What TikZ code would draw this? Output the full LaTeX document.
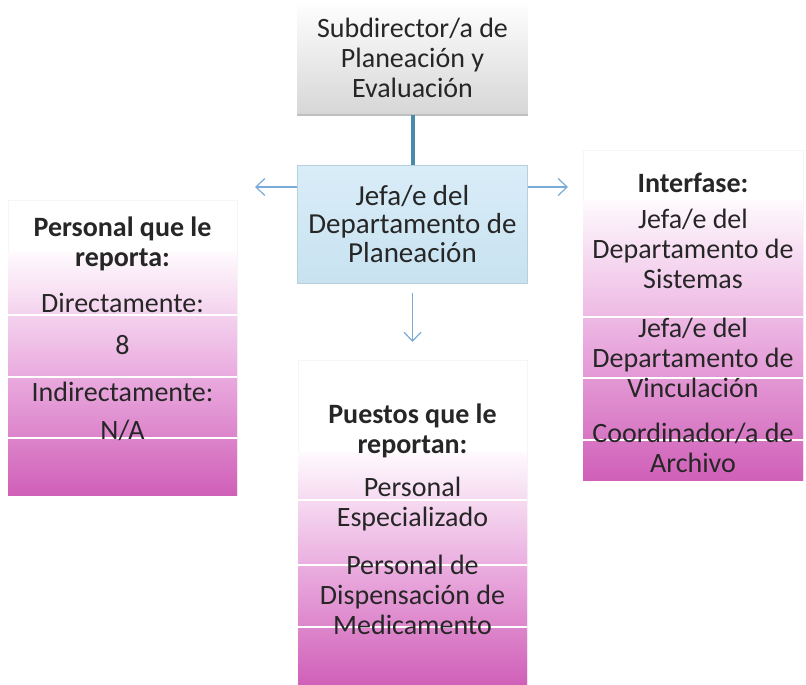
\documentclass[tikz,border=0pt]{standalone}
\usepackage{fontspec}
\setmainfont{Carlito}
\usetikzlibrary{arrows.meta}
\definecolor{ink}{HTML}{262626}
\definecolor{pinkT}{RGB}{254,250,253}
\definecolor{pinkM}{RGB}{234,172,223}
\definecolor{pinkB}{RGB}{208,96,184}
\definecolor{blueF}{HTML}{C8E2F0}
\definecolor{blueT}{HTML}{D9EDF8}
\definecolor{linkteal}{HTML}{468CAA}
\definecolor{arrblue}{RGB}{120,170,218}
\begin{document}
\begin{tikzpicture}[x=1pt,y=-1pt,
  txt/.style={font=\fontsize{28}{30}\selectfont, text=ink, align=center, inner sep=0pt},
  ttl/.style={font=\fontsize{28}{30}\selectfont\bfseries, text=ink, align=center, inner sep=0pt},
  frame/.style={draw=black!4, fill=white, inner sep=0pt},
  panel/.style={draw=none, top color=pinkT, bottom color=pinkB, middle color=pinkM, inner sep=0pt},
  sep/.style={white, line width=1.8pt},
  arr/.style={arrblue, line width=1.2pt, -{Straight Barb[length=9pt,width=17pt]}},
]
\useasboundingbox (0,0) rectangle (806,685);
\fill[white] (0,0) rectangle (806,685);

% top box
\node[draw=none, top color=white, bottom color=black!16, minimum width=230pt, minimum height=115pt, inner sep=0pt] (subbox) at (412.5,57.5) {};
\draw[black!25, line width=1.5pt] (subbox.south west) -- (subbox.south east);
\node[txt] (sub) at (412.5,58) {Subdirector/a de\\Planeación y\\Evaluación};

% Jefa box
\node[draw=blueF!92!black, line width=0.3pt, top color=blueT, bottom color=blueF, minimum width=230pt, minimum height=118pt, inner sep=0pt,
      font=\fontsize{29}{28.5}\selectfont, text=ink, align=center] (jefa) at (412.5,224) {Jefa/e del\\Departamento de\\Planeación};

\draw[linkteal, line width=4pt] (subbox.south) -- (jefa.north);

% arrows
\coordinate (la) at (255,187);
\coordinate (ra) at (568,187);
\coordinate (da) at (412.5,342);
\draw[arr] (la -| jefa.west) -- (la);
\draw[arr] (ra -| jefa.east) -- (ra);
\draw[arr] ([yshift=-10pt]jefa.south) -- (da);

% left panel
\node[frame, minimum width=229pt, minimum height=295pt] (lframe) at (122.5,347.5) {};
\node[panel, minimum width=229pt, minimum height=243pt] (lpanel) at (122.5,373.5) {};
\foreach \yy in {315,377,438} \draw[sep] (lpanel.west |- 0,\yy) -- (lpanel.east |- 0,\yy);
\node[ttl] (ltitle) at (122.5,244) {Personal que le\\reporta:};
\node[txt] (ldir) at (122.5,303) {Directamente:};
\node[txt] (lnum) at (122.5,345) {8};
\node[txt] (lind) at (122.5,392) {Indirectamente:};
\node[txt] (lna) at (122.5,430) {N/A};

% right panel
\node[frame, minimum width=220pt, minimum height=330pt] (rframe) at (693,315) {};
\node[panel, minimum width=220pt, minimum height=280pt] (rpanel) at (693,340) {};
\foreach \yy in {317,378,440} \draw[sep] (rpanel.west |- 0,\yy) -- (rpanel.east |- 0,\yy);
\node[ttl] (rtitle) at (693,183) {Interfase:};
\node[txt] (rsis) at (693,249) {Jefa/e del\\Departamento de\\Sistemas};
\node[txt] (rvin) at (693,357.5) {Jefa/e del\\Departamento de\\Vinculación};
\node[txt] (rarc) at (693,448) {Coordinador/a de\\Archivo};

% bottom panel
\node[frame, minimum width=229pt, minimum height=325pt] (bframe) at (412.5,522.5) {};
\node[panel, minimum width=229pt, minimum height=233pt] (bpanel) at (412.5,568.5) {};
\foreach \yy in {500,565,627} \draw[sep] (bpanel.west |- 0,\yy) -- (bpanel.east |- 0,\yy);
\node[ttl] (btitle) at (412.5,431) {Puestos que le\\reportan:};
\node[txt] (besp) at (412.5,504) {Personal\\Especializado};
\node[txt] (bmed) at (412.5,595) {Personal de\\Dispensación de\\Medicamento};
\end{tikzpicture}
\end{document}
